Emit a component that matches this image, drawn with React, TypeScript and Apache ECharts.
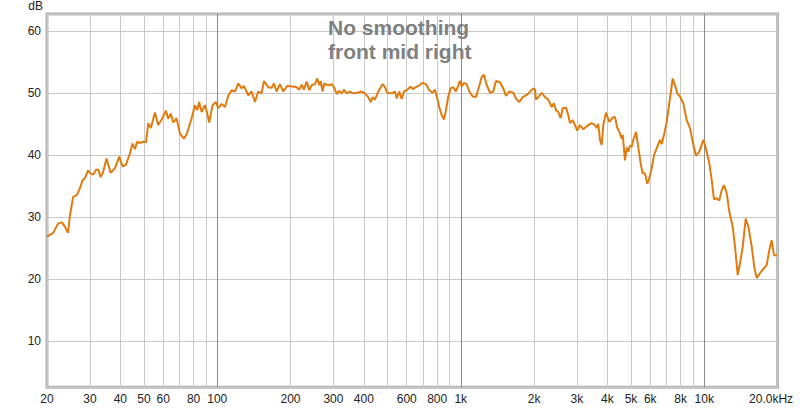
import React, { useEffect, useRef } from "react";
import * as echarts from "echarts";

const freqHz: number[] = [
  20, 21.2, 22.2, 23.0, 23.7, 24.4, 24.8, 25.6, 26.5, 27.3, 28.0, 28.6, 29.5, 30.2, 31.0, 31.8, 32.5, 33.2, 34.0, 35.1,
  36.5, 38.0, 39.6, 40.9, 42.2, 43.8, 44.9, 45.9, 46.9, 48.1, 49.7, 51.0, 52.1, 53.4, 55.5, 57.2, 59.1, 61.6, 62.9, 64.5,
  66.0, 68.1, 70.3, 73.0, 74.9, 78.5, 81.0, 82.8, 84.3, 86.3, 89.0, 91.0, 92.7, 95.7, 98.8, 100.9, 104.2, 107.6, 111.0, 114.6,
  118.2, 122.0, 126.0, 128.7, 134.1, 138.4, 142.8, 147.3, 152.1, 155.5, 162.0, 167.3, 170.9, 175.3, 180.9, 186.7, 193.8, 205.2, 211.8, 217.3,
  222.2, 227.0, 232.9, 238.8, 244.2, 252.0, 257.5, 262.4, 265.8, 270.9, 275.1, 285.6, 295.0, 301.6, 309.4, 317.0, 324.3, 331.4, 340.0, 350.7,
  361.8, 375.8, 391.8, 404.2, 417.0, 426.6, 434.8, 444.2, 458.3, 477.8, 488.4, 499.0, 520.3, 536.8, 545.6, 559.2, 572.1, 584.6, 599.7, 622.7,
  634.6, 654.6, 675.4, 697.4, 719.7, 742.5, 766.8, 783.5, 800.7, 816.0, 834.6, 853.1, 869.4, 888.4, 909.0, 931.6, 955.7, 976.6, 992.4, 1009,
  1031, 1057, 1084, 1119, 1154, 1191, 1218, 1245, 1277, 1318, 1360, 1395, 1449, 1495, 1533, 1582, 1643, 1696, 1739, 1796,
  1876, 1937, 1985, 2017, 2036, 2101, 2150, 2218, 2288, 2362, 2414, 2460, 2514, 2572, 2621, 2704, 2764, 2808, 2881, 2944,
  3009, 3086, 3184, 3340, 3450, 3558, 3616, 3671, 3730, 3791, 3849, 3948, 4073, 4207, 4299, 4394, 4478, 4581, 4625, 4726,
  4803, 4877, 4955, 5035, 5112, 5245, 5358, 5480, 5585, 5708, 5834, 5944, 6081, 6214, 6412, 6578, 6683, 6832, 7009, 7182,
  7418, 7580, 7748, 7948, 8200, 8468, 8736, 9013, 9247, 9540, 9908, 10164, 10486, 10728, 10963, 11246, 11526, 11790, 12050, 12362,
  12668, 13083, 13372, 13716, 14020, 14382, 14795, 15163, 15659, 16046, 16416, 16934, 17590, 18041, 18492, 18917, 19331, 19900,
];

const levelDb: number[] = [
  26.9, 27.5, 29.0, 29.2, 28.5, 27.5, 30.1, 33.3, 33.6, 34.7, 36.0, 36.3, 37.6, 37.1, 36.9, 37.7, 37.7, 36.5, 37.3, 39.5,
  37.2, 37.9, 39.8, 38.2, 38.5, 40.3, 41.9, 41.0, 42.2, 42.0, 42.2, 42.1, 45.2, 44.4, 46.9, 44.9, 45.8, 47.2, 45.9, 46.7,
  45.3, 46.0, 43.5, 42.7, 43.4, 46.0, 48.1, 47.3, 48.6, 47.0, 48.1, 46.8, 45.3, 48.1, 48.6, 47.6, 48.3, 47.8, 49.6, 50.5,
  50.3, 51.6, 50.8, 51.2, 49.7, 50.3, 48.6, 50.3, 50.0, 52.0, 51.0, 50.9, 51.6, 50.3, 51.5, 50.3, 51.2, 51.1, 51.0, 50.6,
  51.4, 50.6, 51.9, 50.5, 51.3, 51.5, 52.4, 51.3, 52.0, 50.3, 51.6, 51.3, 51.5, 51.0, 49.9, 50.4, 50.0, 50.6, 50.0, 50.3,
  50.0, 50.1, 50.3, 50.0, 49.4, 48.6, 49.4, 49.0, 50.3, 51.5, 51.0, 50.1, 50.0, 50.3, 49.2, 50.3, 49.1, 50.3, 50.5, 51.1,
  50.7, 51.0, 51.3, 51.7, 51.5, 50.5, 50.1, 50.6, 49.2, 47.8, 46.5, 45.8, 47.3, 49.5, 50.8, 51.0, 50.3, 51.3, 52.0, 51.1,
  51.7, 51.5, 50.3, 49.5, 49.4, 51.2, 52.6, 53.0, 51.4, 50.1, 50.3, 52.0, 51.8, 50.8, 49.6, 50.3, 50.1, 49.0, 48.6, 49.4,
  49.8, 50.4, 50.8, 50.6, 49.0, 49.6, 50.1, 49.4, 49.0, 47.8, 48.4, 47.3, 47.0, 46.0, 47.6, 47.7, 46.5, 45.2, 45.7, 44.9,
  44.0, 44.9, 44.2, 44.9, 45.2, 44.9, 44.4, 45.1, 42.5, 41.7, 44.9, 46.9, 45.4, 46.1, 46.2, 44.4, 43.8, 42.7, 43.3, 39.2,
  41.3, 40.6, 41.6, 41.4, 42.5, 43.8, 41.3, 38.7, 37.1, 37.1, 35.4, 36.3, 37.9, 40.0, 41.4, 42.5, 41.8, 43.3, 45.4, 48.4,
  52.4, 51.3, 50.0, 49.5, 48.4, 45.7, 44.4, 41.7, 39.9, 40.6, 42.5, 41.1, 38.7, 36.0, 32.9, 33.1, 32.7, 34.4, 35.2, 33.9,
  30.9, 28.5, 25.3, 20.7, 22.6, 25.3, 29.8, 28.5, 25.3, 22.0, 20.2, 21.0, 21.8, 22.3, 24.7, 26.3, 23.9, 23.9,
];

const xLabelValues: number[] = [20, 30, 40, 50, 60, 80, 100, 200, 300, 400, 600, 800, 1000, 2000, 3000, 4000, 5000, 6000, 8000, 10000, 20000];
const xGridValues: number[] = [
  20, 30, 40, 50, 60, 70, 80, 90, 100, 200, 300, 400, 500, 600, 700, 800, 900,
  1000, 2000, 3000, 4000, 5000, 6000, 7000, 8000, 9000, 10000, 20000,
];
const xMajorValues: number[] = [100, 1000, 10000];
const titleLines: string[] = ["No smoothing", "front mid right"];

function fmtFreq(v: number): string {
  if (v >= 20000) return "{last|20.0kHz}";
  if (v >= 1000) return Math.round(v / 1000) + "k";
  return String(Math.round(v));
}

export default function App() {
  const ref = useRef<HTMLDivElement>(null);
  useEffect(() => {
    document.body.style.margin = "0";
    const chart = echarts.init(ref.current!, null, { renderer: "svg" });
    const data = freqHz.map((f, i) => [f, levelDb[i]]);
    const gridCol = "#c8c8c8";
    chart.setOption({
      animation: false,
      backgroundColor: "#ffffff",
      textStyle: { fontFamily: "Liberation Sans, Arial, sans-serif" },
      title: {
        text: titleLines.join("\n"),
        left: 323,
        top: 10,
        textStyle: {
          fontSize: 21,
          fontWeight: "bold",
          color: "#808080",
          lineHeight: 24,
          fontFamily: "Liberation Sans, Arial, sans-serif",
        },
      },
      grid: {
        left: 47,
        right: 22.4,
        top: 14,
        bottom: 20.7,
        show: true,
        borderColor: "#b4b4b4",
        borderWidth: 3,
        backgroundColor: "#ffffff",
        outerBoundsMode: "none",
        containLabel: false,
      },
      xAxis: [
        {
          type: "log",
          logBase: 10,
          min: 20,
          max: 20000,
          axisLine: { show: false },
          axisTick: { show: false, customValues: xGridValues },
          splitLine: { show: true, lineStyle: { color: gridCol, width: 1 } },
          minorTick: { show: false },
          minorSplitLine: { show: false },
          axisLabel: {
            customValues: xLabelValues,
            formatter: (v: number) => fmtFreq(v),
            color: "#222",
            fontSize: 12,
            margin: 6,
            rich: { last: { padding: [0, 13, 0, 0], color: "#222", fontSize: 12 } },
          },
        },
        {
          type: "log",
          logBase: 10,
          min: 20,
          max: 20000,
          axisLine: { show: false },
          axisTick: { show: false, customValues: xMajorValues },
          axisLabel: { show: false },
          splitLine: { show: true, lineStyle: { color: "#8a8a8a", width: 1 } },
        },
      ],
      yAxis: {
        type: "value",
        min: 2.6,
        max: 62.8,
        splitNumber: 6,
        name: "dB",
        nameLocation: "end",
        nameGap: 8,
        nameTextStyle: {
          align: "right",
          verticalAlign: "middle",
          padding: [0, 4, 0, 0],
          color: "#222",
          fontSize: 12,
        },
        axisLine: { show: false },
        axisTick: { show: false },
        splitLine: { show: true, lineStyle: { color: gridCol, width: 1 } },
        axisLabel: {
          showMinLabel: false,
          showMaxLabel: false,
          color: "#222",
          fontSize: 12,
          margin: 6,
          formatter: (v: number) => (Math.abs(v % 10) < 1e-6 ? String(v) : ""),
        },
      },
      series: [
        {
          type: "line",
          xAxisIndex: 0,
          data,
          showSymbol: false,
          symbol: "none",
          smooth: false,
          clip: true,
          lineStyle: { color: "#e07b0f", width: 2 },
          z: 5,
        },
      ],
    });
    return () => chart.dispose();
  }, []);
  return <div ref={ref} style={{ width: 800, height: 408 }} />;
}
